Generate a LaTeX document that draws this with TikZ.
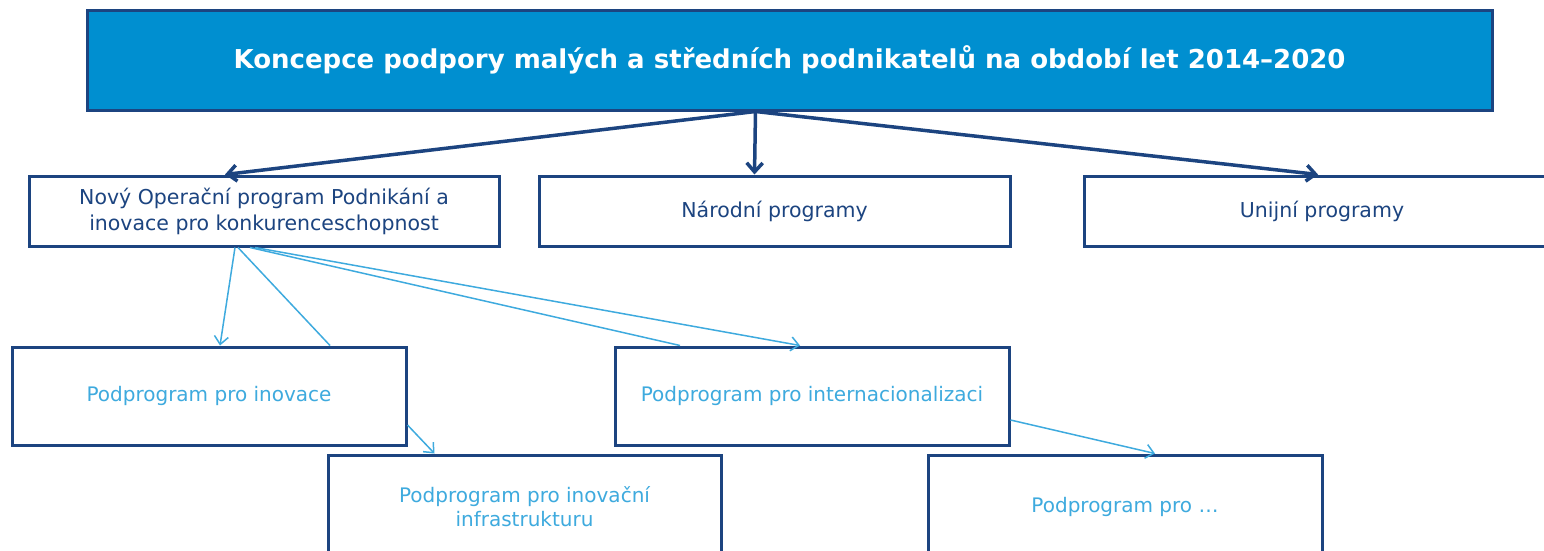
\documentclass[tikz,border=0pt]{standalone}
\usepackage{fontspec}
\setmainfont{DejaVu Sans}
\usetikzlibrary{arrows.meta}

\definecolor{titleblue}{RGB}{0,143,208}
\definecolor{navy}{RGB}{28,68,128}
\definecolor{skyblue}{RGB}{62,170,222}

\begin{document}
\begin{tikzpicture}[x=1pt, y=-1pt,
    box/.style={draw=navy, line width=3pt, fill=white, inner sep=0pt, align=center},
    mainbox/.style={box, minimum width=470pt, minimum height=70pt, text=navy,
        font=\fontsize{20.5}{26}\selectfont},
    subbox/.style={box, minimum width=394pt, minimum height=98pt, text=skyblue,
        font=\fontsize{20}{24}\selectfont},
    thickarrow/.style={navy, line width=3.5pt, -{Straight Barb[length=9pt, width=16pt]}},
    thinline/.style={skyblue, line width=1.5pt},
    thinarrow/.style={thinline, -{Straight Barb[length=8pt, width=14pt]}}]
            \useasboundingbox (0,0) rectangle (1544,550);

            % Top level
            \node (concept) at (789.5,60) [box, fill=titleblue, minimum width=1405pt,
                minimum height=100pt, text=white, font=\bfseries\fontsize{26}{30}\selectfont]
                {Koncepce podpory malých a středních podnikatelů na období let 2014--2020};

            % Programmes
            \node (opp) at (264,211) [mainbox] {Nový Operační program Podnikání a\\inovace pro konkurenceschopnost};
            \node (national) at (774.5,211) [mainbox, minimum width=471pt] {Národní programy};
            \node (union) at (1322,211) [mainbox, minimum width=476pt] {Unijní programy};

            \draw [thickarrow] ([xshift=-34pt]concept.south) -- ([xshift=-39pt]opp.north);
            \draw [thickarrow] ([xshift=-34pt]concept.south) -- ([xshift=-20pt]national.north);
            \draw [thickarrow] ([xshift=-34pt]concept.south) -- ([xshift=-4pt]union.north);

                % Subprogrammes
                \node (innovation) at (209,396) [subbox] {Podprogram pro inovace};
                \node (intl) at (812,396) [subbox] {Podprogram pro internacionalizaci};
                \node (infra) at (524.5,507) [subbox, minimum width=393pt, minimum height=104pt]
                    {Podprogram pro inovační\\infrastrukturu};
                \node (other) at (1125,507) [subbox, minimum width=394pt, minimum height=104pt]
                    {Podprogram pro \dots};

                \draw [thinarrow] ([xshift=-29pt]opp.south) -- ([xshift=11pt]innovation.north);
                \draw [thinline] ([xshift=-26pt]opp.south) -- ([xshift=121pt]innovation.north);
                \draw [thinline] ([xshift=-14pt]opp.south) -- ([xshift=-132pt]intl.north);
                \draw [thinarrow] ([xshift=-9pt]opp.south) -- ([xshift=-12pt]intl.north);

                \draw [thinarrow] ([yshift=-29pt]innovation.east) -- ([xshift=-90pt]infra.north);
                \draw [thinarrow] ([yshift=-24pt]intl.east) -- ([xshift=30pt]other.north);
        \end{tikzpicture}
\end{document}
